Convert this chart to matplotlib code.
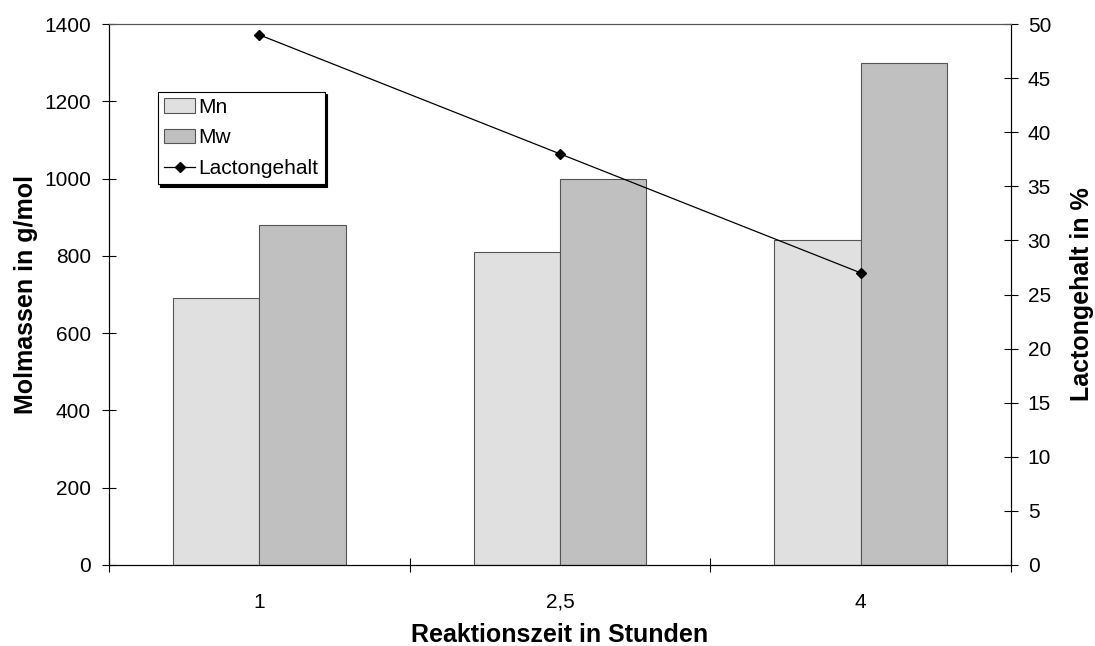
import matplotlib
matplotlib.use("Agg")
import matplotlib.pyplot as plt
import numpy as np

plt.rcParams["font.family"] = ["Liberation Sans", "DejaVu Sans"]

zeiten = ["1", "2,5", "4"]
mn = [690, 810, 840]
mw = [880, 1000, 1300]
lacton = [49, 38, 27]

fig = plt.figure(figsize=(10.95, 6.46), dpi=100)
ax = fig.add_axes([0.0995, 0.1254, 0.8238, 0.8374])
ax2 = ax.twinx()

x = np.arange(1, len(zeiten) + 1)
w = 0.287
b1 = ax.bar(x - w / 2, mn, w, color="#e0e0e0", edgecolor="#555555", linewidth=0.8, label="Mn")
b2 = ax.bar(x + w / 2, mw, w, color="#c0c0c0", edgecolor="#555555", linewidth=0.8, label="Mw")
ln, = ax2.plot(x, lacton, color="black", linewidth=0.9, marker="D", markersize=5,
               label="Lactongehalt")

ax.set_xlim(0.5, len(zeiten) + 0.5)
ax.set_ylim(0, 1400)
ax.set_yticks(range(0, 1401, 200))
ax2.set_ylim(0, 50)
ax2.set_yticks(range(0, 51, 5))

# Kategorien in der Mitte beschriften, Striche an den Grenzen
ax.set_xticks(x)
ax.set_xticklabels(zeiten)
ax.set_xticks(np.arange(0.5, len(zeiten) + 1, 1.0), minor=True)
ax.tick_params(axis="x", which="major", length=0, pad=20, labelsize=15)
ax.tick_params(axis="x", which="minor", direction="inout", length=10, width=0.8)
ax.tick_params(axis="y", direction="inout", length=10, width=0.8, labelsize=15, pad=8)
ax2.tick_params(axis="y", direction="inout", length=10, width=0.8, labelsize=15, pad=7)

for a in (ax, ax2):
    for s in a.spines.values():
        s.set_linewidth(0.8)
    a.spines["top"].set_color("#555555")

ax.set_xlabel("Reaktionszeit in Stunden", fontsize=18, fontweight="bold", labelpad=8)
ax.set_ylabel("Molmassen in g/mol", fontsize=18, fontweight="bold", labelpad=4)
ax2.set_ylabel("Lactongehalt in %", fontsize=18, fontweight="bold", labelpad=14)

leg = ax2.legend([b1, b2, ln], ["Mn", "Mw", "Lactongehalt"], loc="upper left",
                 bbox_to_anchor=(0.054, 0.875), fontsize=15, frameon=True, fancybox=False,
                 shadow={"color": "black", "alpha": 1.0}, borderpad=0.3, labelspacing=0.55,
                 handlelength=1.5, handletextpad=0.15, borderaxespad=0)
leg.get_frame().set_edgecolor("black")
leg.get_frame().set_linewidth(0.8)

fig.savefig("out.png", dpi=100)
